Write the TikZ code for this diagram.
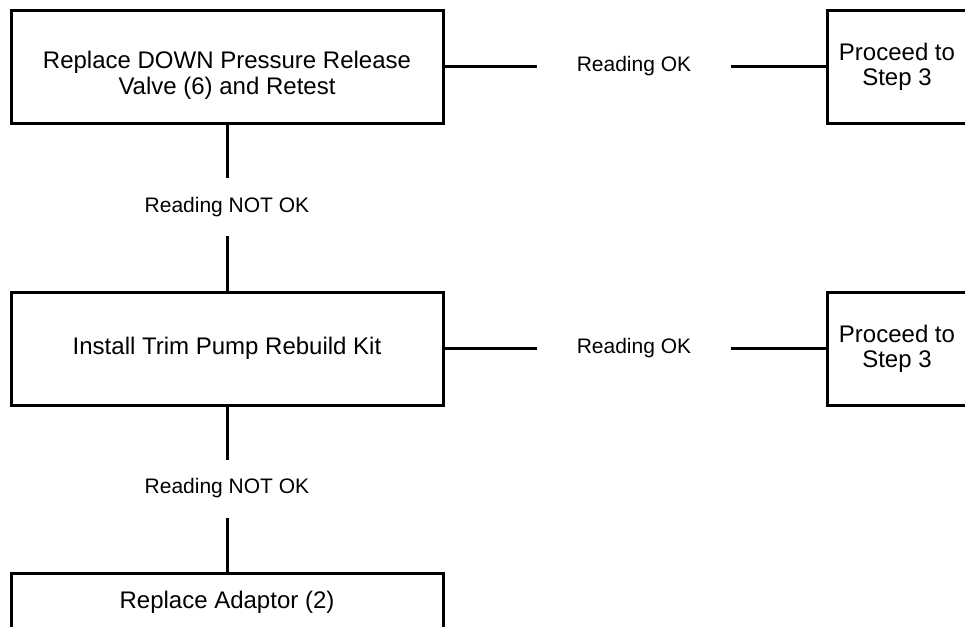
\documentclass[tikz,border=0pt]{standalone}
\usepackage{fontspec}
\setmainfont{Liberation Sans}
\usepackage{tikz}
\tikzset{
    stepbox/.style={draw, line width=1.5pt, minimum width=216pt, minimum height=56.5pt, inner sep=0pt, align=center, font=\fontsize{12}{13}\selectfont},
    smallbox/.style={stepbox, minimum width=70pt},
    reading/.style={minimum width=97pt, minimum height=29pt, inner sep=0pt, outer sep=0pt, font=\fontsize{10.5}{12}\selectfont},
    link/.style={line width=1.5pt}
}
\begin{document}
\begin{tikzpicture}[x=0.5pt, y=-0.5pt]
            \useasboundingbox (0,0) rectangle (965,627);
            \clip (0,0) rectangle (965,627);

            % 1. Pressure release valve
            \node[stepbox] (valve) at (227,66.5) {\rule{0pt}{17pt}Replace DOWN Pressure Release\\Valve (6) and Retest};
            \node[reading] (ok1) at (634,66.5) {Reading OK};
            \node[smallbox, font=\fontsize{12}{12.5}\selectfont] (step1) at (897,66.5) {Proceed to\\Step 3};
            \draw[link] (valve) -- (ok1) -- (step1);
            \node[reading] (notok1) at (227,207) {Reading NOT OK};
            \draw[link] (valve) -- (notok1);

            % 2. Rebuild kit
            \node[stepbox] (kit) at (227,348.5) {Install Trim Pump Rebuild Kit};
            \node[reading] (ok2) at (634,348.5) {Reading OK};
            \node[smallbox, font=\fontsize{12}{12.5}\selectfont] (step2) at (897,348.5) {Proceed to\\Step 3};
            \draw[link] (notok1) -- (kit);
            \draw[link] (kit) -- (ok2) -- (step2);
            \node[reading] (notok2) at (227,488.5) {Reading NOT OK};
            \draw[link] (kit) -- (notok2);

            % 3. Adaptor
            \node[stepbox, minimum height=29pt] (adaptor) at (227,602) {Replace Adaptor (2)};
            \draw[link] (notok2) -- (adaptor);
        \end{tikzpicture}
\end{document}
